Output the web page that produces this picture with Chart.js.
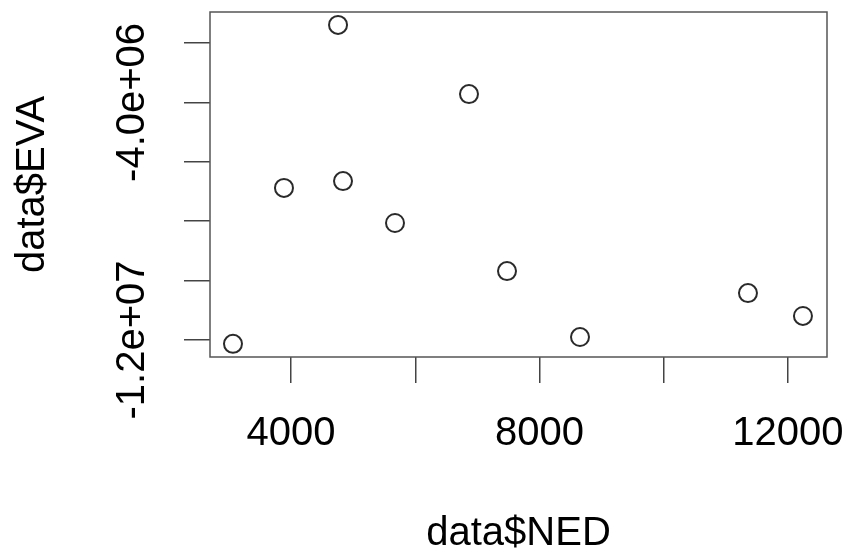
<!DOCTYPE html>
<html>
<head>
<meta charset="utf-8">
<script src="https://cdn.jsdelivr.net/npm/chart.js@4.4.0/dist/chart.umd.min.js"></script>
<style>
  html, body { margin: 0; padding: 0; background: #fff; }
  #wrap { width: 848px; height: 554px; }
</style>
</head>
<body>
<div id="wrap"><canvas id="myChart" width="848" height="554"></canvas></div>
<script>
// valores (data$NED, data$EVA)
const nedValues = [3066, 3887, 4757, 4837, 5674, 6865, 7477, 8652, 11356, 12241];
const evaValues = [-12130000, -6880000, -1390000, -6650000, -8060000, -3720000, -9680000, -11900000, -10420000, -11190000];

// posiciones de los ticks y etiquetas que R deja visibles
const xTickValues = [4000, 6000, 8000, 10000, 12000];
const yTickValues = [-12000000, -10000000, -8000000, -6000000, -4000000, -2000000];
const xTickLabels = { 4000: "4000", 8000: "8000", 12000: "12000" };
const yTickLabels = { "-12000000": "-1.2e+07", "-4000000": "-4.0e+06" };

const points = nedValues.map((x, i) => ({ x: x, y: evaValues[i] }));

const FONT = "'Liberation Sans', Arial, Helvetica, sans-serif";
const LINE = "#444";

// caja alrededor del area del grafico (box() de R)
const boxPlugin = {
  id: "rbox",
  afterDraw(chart) {
    const a = chart.chartArea;
    const ctx = chart.ctx;
    ctx.save();
    ctx.strokeStyle = "#555";
    ctx.lineWidth = 1.5;
    ctx.strokeRect(a.left, a.top, a.right - a.left, a.bottom - a.top);
    ctx.restore();
  }
};

// quitar el relleno que Chart.js reserva para las etiquetas de los extremos
function noPadding(scale) {
  scale.paddingLeft = 0;
  scale.paddingRight = 0;
  scale.paddingTop = 0;
  scale.paddingBottom = 0;
}

const ctx = document.getElementById("myChart").getContext("2d");
const myChart = new Chart(ctx, {
  type: "scatter",
  data: {
    datasets: [
      {
        label: "EVA",
        data: points,
        pointRadius: 9,
        pointHoverRadius: 9,
        borderWidth: 2,
        borderColor: "#2a2a2a",
        backgroundColor: "rgba(255,255,255,0)",
      },
    ],
  },
  options: {
    responsive: false,
    animation: false,
    devicePixelRatio: 1,
    layout: { padding: { top: 12, right: 21, bottom: 0, left: 0 } },
    plugins: { legend: { display: false }, tooltip: { enabled: false } },
    scales: {
      x: {
        type: "linear",
        position: "bottom",
        min: 2696,
        max: 12628,
        afterBuildTicks: (scale) => { scale.ticks = xTickValues.map((v) => ({ value: v })); },
        afterFit: (scale) => { scale.height = 197; noPadding(scale); },
        border: { display: false },
        grid: { drawOnChartArea: false, drawTicks: true, tickLength: 26, color: LINE, lineWidth: 1.5 },
        ticks: {
          autoSkip: false,
          maxRotation: 0,
          padding: 31,
          color: "#000",
          font: { family: FONT, size: 40, lineHeight: 1 },
          callback: (v) => xTickLabels[v] || "",
        },
        title: {
          display: true,
          text: "data$NED",
          color: "#000",
          font: { family: FONT, size: 40, lineHeight: 1 },
          padding: { top: 0, bottom: 0 },
        },
      },
      y: {
        type: "linear",
        position: "left",
        min: -12572000,
        max: -956000,
        afterBuildTicks: (scale) => { scale.ticks = yTickValues.map((v) => ({ value: v })); },
        afterFit: (scale) => { scale.width = 210; noPadding(scale); },
        border: { display: false },
        grid: { drawOnChartArea: false, drawTicks: true, tickLength: 26, color: LINE, lineWidth: 1.5 },
        ticks: {
          autoSkip: false,
          minRotation: 90,
          maxRotation: 90,
          crossAlign: "center",
          padding: -28,
          color: "#000",
          font: { family: FONT, size: 40, lineHeight: 1 },
          callback: (v) => yTickLabels[String(v)] || "",
        },
        title: {
          display: true,
          text: "data$EVA",
          color: "#000",
          font: { family: FONT, size: 40, lineHeight: 1 },
          padding: { top: 13, bottom: 0 },
        },
      },
    },
  },
  plugins: [boxPlugin],
});
</script>
</body>
</html>
